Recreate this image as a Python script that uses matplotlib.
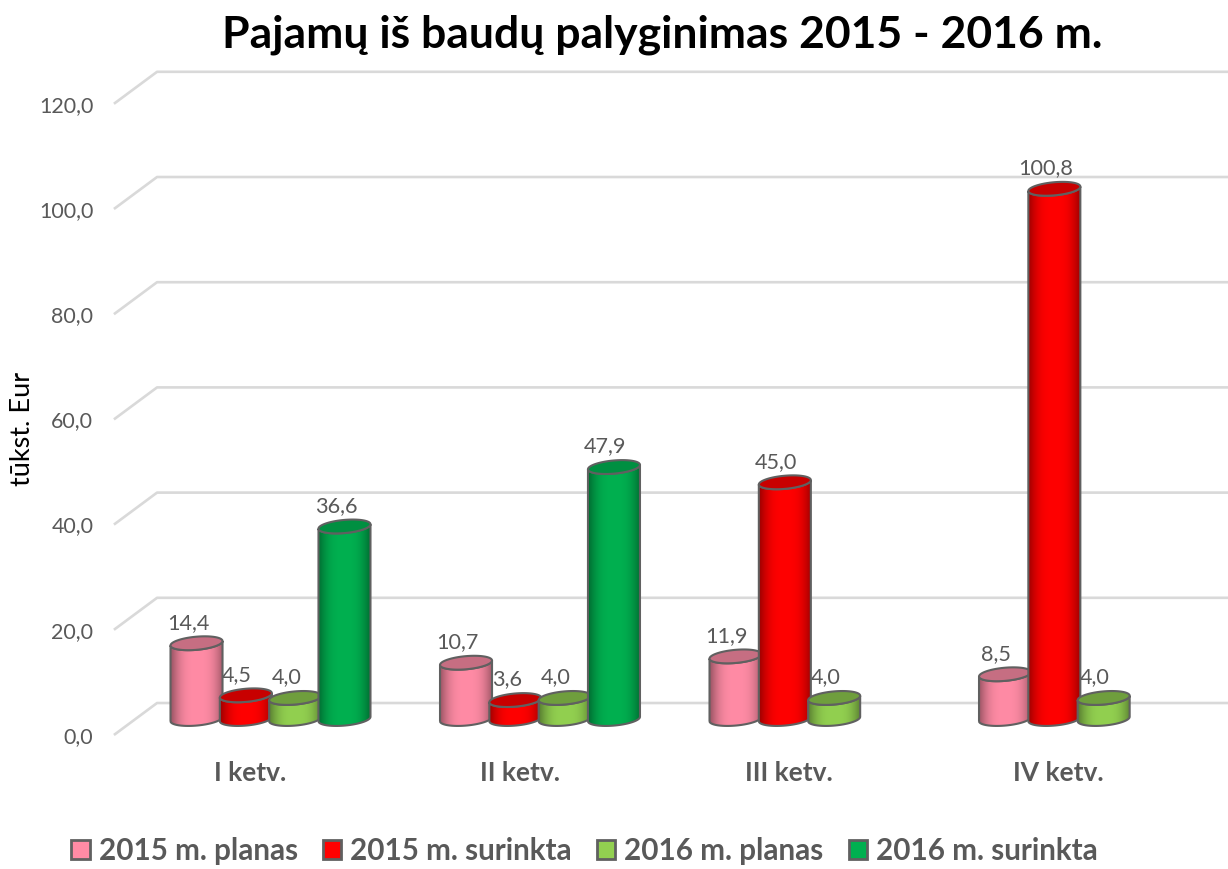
import numpy as np
import matplotlib.pyplot as plt
from matplotlib.patches import Patch, PathPatch
from matplotlib.path import Path

plt.rcParams["font.family"] = ["Lato", "DejaVu Sans"]

quarters = ["I ketv.", "II ketv.", "III ketv.", "IV ketv."]
series_names = ["2015 m. planas", "2015 m. surinkta", "2016 m. planas", "2016 m. surinkta"]
plan_2015 = [14.4, 10.7, 11.9, 8.5]
got_2015 = [4.5, 3.6, 45.0, 100.8]
plan_2016 = [4.0, 4.0, 4.0, 4.0]
got_2016 = [36.6, 47.9, np.nan, np.nan]
y_ticks = [0, 20, 40, 60, 80, 100, 120]

body_colors = ["#ff8ba5", "#ff0000", "#92d050", "#00b050"]
top_colors = ["#c66e82", "#c80000", "#6f9e3d", "#008f41"]
edge = "#606060"
grey = "#595959"

# 3d look: floor depth in value units, cylinder sizes in axis units
depth = 3.04
bar_w = 0.193
step = 0.183
ell_h = 1.25
ell_tilt = 0.42


def ellipse(cx, cy, t):
    return cx + bar_w / 2 * np.cos(t), cy + ell_h * np.sin(t) + ell_tilt * np.cos(t)


def cylinder(ax, cx, val, color, top, z):
    # body outline: top front half of the ellipse and the bottom front half
    t = np.linspace(np.pi, 2 * np.pi, 40)
    xb, yb = ellipse(cx, 0, t)
    xt, yt = ellipse(cx, val, t[::-1])
    verts = np.r_[np.c_[xb, yb], np.c_[xt, yt], [[xb[0], yb[0]]]]
    body = Path(verts)

    # shading across the bar, dark at the sides
    rgb = np.array(plt.matplotlib.colors.to_rgb(color))
    u = np.linspace(-1, 1, 120)
    shade = 0.62 + 0.38 * np.clip(1 - np.abs(u) ** 3, 0, 1) ** 1.2
    strip = (rgb[None, None, :] * shade[None, :, None]).clip(0, 1)
    im = ax.imshow(strip, aspect="auto", zorder=z, interpolation="bilinear",
                   extent=(cx - bar_w / 2, cx + bar_w / 2, -ell_h - 1, val + ell_h + 1))
    outline = PathPatch(body, fc="none", ec=edge, lw=1.5, zorder=z + 0.1)
    ax.add_patch(outline)
    im.set_clip_path(outline)

    t = np.linspace(0, 2 * np.pi, 80)
    xe, ye = ellipse(cx, val, t)
    ax.fill(xe, ye, fc=top, ec=edge, lw=1.5, zorder=z + 0.2)


fig = plt.figure(figsize=(12.28, 8.69), dpi=100)
ax = fig.add_axes([112 / 1228, 1 - 745 / 869, 1 - 112 / 1228, (745 - 60) / 869])
xlim = ((112 - 270.5) / 269.5, (1228 - 270.5) / 269.5)
ylim = ((719 - 745) / 5.26, (719 - 60) / 5.26)

# walls: slanted floor part then horizontal line at the back
for v in y_ticks:
    ax.plot([-0.581, -0.421, xlim[1]], [v - depth, v + depth, v + depth],
            color="#d9d9d9", lw=1.9, zorder=1, solid_capstyle="butt")

all_series = [plan_2015, got_2015, plan_2016, got_2016]
for s, vals in enumerate(all_series):
    for g, v in enumerate(vals):
        if np.isnan(v):
            continue
        cx = g + (s - 1.5) * step
        cylinder(ax, cx, v, body_colors[s], top_colors[s], 3 + s)
        ax.text(cx - 0.032, v + 3.9, f"{v:.1f}".replace(".", ","), ha="center", va="center",
                fontsize=15.6, color=grey, zorder=2)

ax.set_xlim(xlim)
ax.set_ylim(ylim)
ax.set_xticks(np.arange(4) - 0.075)
ax.set_xticklabels(quarters, fontsize=19, fontweight="bold", color=grey)
ax.set_yticks(np.array(y_ticks) - depth)
ax.set_yticklabels([f"{v:.1f}".replace(".", ",") for v in y_ticks], fontsize=15.4, color=grey)
ax.tick_params(axis="x", length=0, pad=11.5)
ax.tick_params(axis="y", length=0, pad=13.5)
for sp in ax.spines.values():
    sp.set_visible(False)
ax.patch.set_alpha(0)

fig.text(23 / 1228, 1 - 429 / 869, "tūkst. Eur", rotation=90, ha="center", va="center",
         fontsize=19.5, color="black")
fig.text(662 / 1228, 1 - 35 / 869, "Pajamų iš baudų palyginimas 2015 - 2016 m.", ha="center",
         va="center", fontsize=32, fontweight="bold", color="black")

handles = [Patch(fc=c, ec=edge, lw=2) for c in body_colors]
fig.legend(handles, series_names, loc="center", bbox_to_anchor=(584.5 / 1228, 1 - 851 / 869),
           ncol=4, frameon=False, prop={"size": 21.3, "weight": "bold"}, labelcolor=grey,
           handlelength=0.62, handleheight=0.62, handletextpad=0.3, columnspacing=0.85,
           borderpad=0, borderaxespad=0)

fig.savefig("out.png", dpi=100)
